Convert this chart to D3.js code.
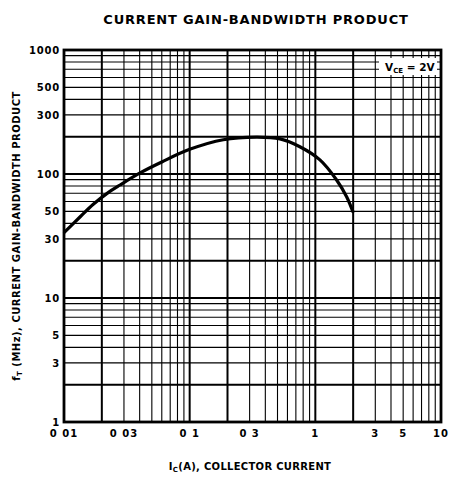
<!DOCTYPE html>
<html>
<head>
<meta charset="utf-8">
<script src="https://cdn.jsdelivr.net/npm/d3@7"></script>
<style>
  body { margin: 0; background: #fff; }
  text { font-family: "DejaVu Sans", sans-serif; font-weight: bold; fill: #000; }
</style>
</head>
<body>
<div class="chart_frame"></div>
<script>
// collector current (A) vs fT (MHz)
var ic = [0.0101, 0.0134, 0.0171, 0.0219, 0.0279, 0.0403, 0.06, 0.1, 0.185, 0.341, 0.523, 0.753, 1.088, 1.477, 1.774, 1.99];
var ft = [34, 45, 57, 69.5, 81.5, 102, 125, 158, 189, 198, 192, 166, 130, 89.5, 65.6, 49.7];

var xTicks = [0.01, 0.03, 0.1, 0.3, 1, 3, 5, 10];
var xTickLabels = ["0 01", "0 03", "0 1", "0 3", "1", "3", "5", "10"];
var yTicks = [1, 3, 5, 10, 30, 50, 100, 300, 500, 1000];
var yTickLabels = ["1", "3", "5", "10", "30", "50", "100", "300", "500", "1000"];

var width = 450, height = 478,
    margin = {'top': 50, 'bottom': 56, 'left': 64, 'right': 9},
    plot_w = width - margin.left - margin.right,
    plot_h = height - margin.top - margin.bottom;

var x = d3.scaleLog().domain([0.01, 10]).range([0, plot_w]);
var y = d3.scaleLog().domain([1, 1000]).range([plot_h, 0]);

var svg = d3.select('.chart_frame').append('svg')
    .attr('width', width)
    .attr('height', height);

var chart = svg.append('g')
    .attr('transform', 'translate(' + margin.left + ',' + margin.top + ')');

// grid: 1..9 in every decade
function gridValues(lo, hi) {
    var out = [];
    for (var d = lo; d < hi; d *= 10) {
        for (var k = 1; k <= 9; k++) out.push({v: d * k, k: k});
    }
    return out;
}
var xGrid = gridValues(0.01, 10).filter(function(g) { return g.v > 0.01 * 1.0001; });
var yGrid = gridValues(1, 1000).filter(function(g) { return g.v > 1.0001; });

function lineW(g) { return (g.k == 1 || g.k == 2) ? 2 : 1.1; }

chart.append('g').selectAll('line').data(xGrid).enter().append('line')
    .attr('x1', function(d) { return x(d.v); }).attr('x2', function(d) { return x(d.v); })
    .attr('y1', 0).attr('y2', plot_h)
    .attr('stroke', '#000').attr('stroke-width', lineW);

chart.append('g').selectAll('line').data(yGrid).enter().append('line')
    .attr('x1', 0).attr('x2', plot_w)
    .attr('y1', function(d) { return y(d.v); }).attr('y2', function(d) { return y(d.v); })
    .attr('stroke', '#000').attr('stroke-width', lineW);

// frame
chart.append('rect')
    .attr('x', 0).attr('y', 0)
    .attr('width', plot_w).attr('height', plot_h)
    .attr('fill', 'none').attr('stroke', '#000').attr('stroke-width', 2.8);

// curve
var pts = ic.map(function(v, i) { return [v, ft[i]]; });
chart.append('path')
    .datum(pts)
    .attr('d', d3.line()
        .x(function(d) { return x(d[0]); })
        .y(function(d) { return y(d[1]); })
        .curve(d3.curveCatmullRom))
    .attr('fill', 'none').attr('stroke', '#000').attr('stroke-width', 3.2)
    .attr('stroke-linecap', 'round');

// VCE label
var vce = chart.append('g').attr('transform', 'translate(' + (plot_w - 60) + ',8)');
vce.append('rect').attr('x', -2).attr('y', 0).attr('width', 58).attr('height', 17).attr('fill', '#fff');
var vt = vce.append('text').attr('x', 4).attr('y', 13).style('font-size', '10.5px');
vt.append('tspan').text('V');
vt.append('tspan').attr('dy', 2).style('font-size', '7px').text('CE');
vt.append('tspan').attr('dy', -2).text(' = 2V');

// tick labels
chart.append('g').selectAll('text').data(xTicks).enter().append('text')
    .attr('x', function(d) { return x(d); })
    .attr('y', plot_h + 15)
    .attr('text-anchor', 'middle')
    .style('font-size', '10px').style('letter-spacing', '1px')
    .text(function(d, i) { return xTickLabels[i]; });

chart.append('g').selectAll('text').data(yTicks).enter().append('text')
    .attr('x', -4)
    .attr('y', function(d) { return y(d) + 4; })
    .attr('text-anchor', 'end')
    .style('font-size', '10px').style('letter-spacing', '0.8px')
    .text(function(d, i) { return yTickLabels[i]; });

// titles
svg.append('text')
    .attr('x', 256).attr('y', 24)
    .attr('text-anchor', 'middle')
    .style('font-size', '13px').style('letter-spacing', '0.8px')
    .text('CURRENT GAIN-BANDWIDTH PRODUCT');

var xt = svg.append('text')
    .attr('x', 250).attr('y', 470)
    .attr('text-anchor', 'middle')
    .style('font-size', '10px').style('letter-spacing', '0.3px');
xt.append('tspan').text('I');
xt.append('tspan').attr('dy', 2).style('font-size', '7px').text('C');
xt.append('tspan').attr('dy', -2).text('(A), COLLECTOR CURRENT');

var yt = svg.append('text')
    .attr('transform', 'translate(20,236) rotate(-90)')
    .attr('text-anchor', 'middle')
    .style('font-size', '10px').style('letter-spacing', '0.5px');
yt.append('tspan').text('f');
yt.append('tspan').attr('dy', 2).style('font-size', '7px').text('T');
yt.append('tspan').attr('dy', -2).text(' (MHz), CURRENT GAIN-BANDWIDTH PRODUCT');
</script>
</body>
</html>
